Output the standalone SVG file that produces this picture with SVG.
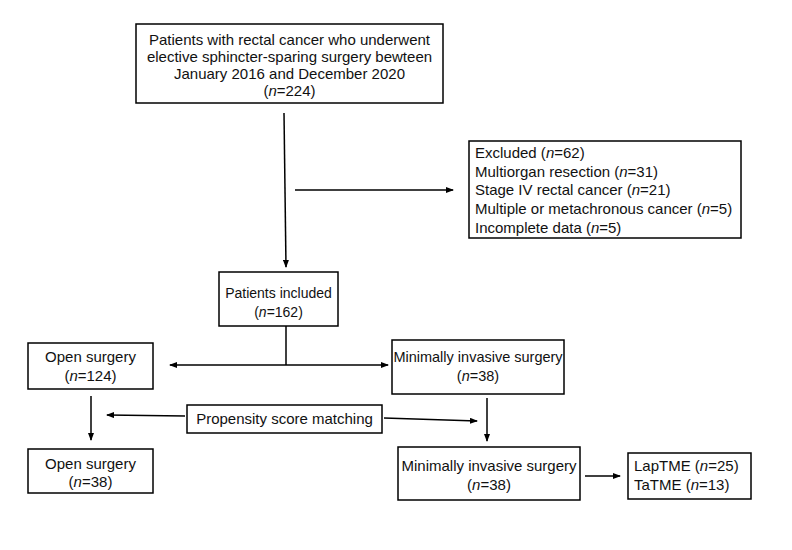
<svg xmlns="http://www.w3.org/2000/svg" width="792" height="550" viewBox="0 0 792 550">
<style>
.box{fill:#fff;stroke:#000;stroke-width:1.5}
text{font-family:"Liberation Sans",Arial,sans-serif;font-size:15px;fill:#111}
.c{text-anchor:middle}
.s14{font-size:14px}
.s145{font-size:14.5px}
.ln{stroke:#000;stroke-width:1.5;fill:none}
</style>
<defs>
<marker id="ah" markerWidth="8" markerHeight="6" refX="7" refY="3" orient="auto" markerUnits="userSpaceOnUse">
<path d="M0,0 L8,3 L0,6 Z" fill="#000"/>
</marker>
<marker id="ahs" markerWidth="8" markerHeight="6" refX="1" refY="3" orient="auto" markerUnits="userSpaceOnUse">
<path d="M8,0 L0,3 L8,6 Z" fill="#000"/>
</marker>
</defs>
<rect width="792" height="550" fill="#fff"/>
<g id="connectors">
<line class="ln" x1="284" y1="113" x2="286" y2="267" marker-end="url(#ah)"/>
<line class="ln" x1="295" y1="190" x2="453" y2="190" marker-end="url(#ah)"/>
<line class="ln" x1="286" y1="326" x2="286" y2="365"/>
<line class="ln" x1="170" y1="365" x2="388" y2="365" marker-start="url(#ahs)" marker-end="url(#ah)"/>
<line class="ln" x1="91" y1="396" x2="91" y2="440" marker-end="url(#ah)"/>
<line class="ln" x1="185" y1="416" x2="107" y2="415" marker-end="url(#ah)"/>
<line class="ln" x1="384" y1="418" x2="477" y2="421" marker-end="url(#ah)"/>
<line class="ln" x1="487" y1="398" x2="487" y2="441" marker-end="url(#ah)"/>
<line class="ln" x1="585" y1="476" x2="620" y2="476" marker-end="url(#ah)"/>
</g>
<g id="n-start">
<rect class="box" x="136" y="24" width="307" height="79"/>
<text class="c" x="289.5" y="45">Patients with rectal cancer who underwent</text>
<text class="c" x="289.5" y="62">elective sphincter-sparing surgery bewteen</text>
<text class="c" x="289.5" y="79">January 2016 and December 2020</text>
<text class="c" x="289.5" y="96">(<tspan font-style="italic">n</tspan>=224)</text>
</g>
<g id="n-excluded">
<rect class="box" x="469" y="141" width="272" height="97"/>
<text x="475" y="158">Excluded (<tspan font-style="italic">n</tspan>=62)</text>
<text x="475" y="177">Multiorgan resection (<tspan font-style="italic">n</tspan>=31)</text>
<text x="475" y="195">Stage IV rectal cancer (<tspan font-style="italic">n</tspan>=21)</text>
<text x="475" y="214">Multiple or metachronous cancer (<tspan font-style="italic">n</tspan>=5)</text>
<text x="475" y="233">Incomplete data (<tspan font-style="italic">n</tspan>=5)</text>
</g>
<g id="n-included">
<rect class="box" x="219" y="272" width="119" height="54"/>
<text class="c s14" x="278.5" y="298">Patients included</text>
<text class="c s14" x="278.5" y="317">(<tspan font-style="italic">n</tspan>=162)</text>
</g>
<g id="n-open1">
<rect class="box" x="28" y="343" width="125" height="46"/>
<text class="c" x="90.5" y="362">Open surgery</text>
<text class="c" x="90.5" y="381">(<tspan font-style="italic">n</tspan>=124)</text>
</g>
<g id="n-mis1">
<rect class="box" x="392" y="340" width="172" height="54"/>
<text class="c s145" x="478" y="362">Minimally invasive surgery</text>
<text class="c s145" x="478" y="381">(<tspan font-style="italic">n</tspan>=38)</text>
</g>
<g id="n-psm">
<rect class="box" x="187" y="405" width="195" height="28"/>
<text class="c" x="284.5" y="424">Propensity score matching</text>
</g>
<g id="n-open2">
<rect class="box" x="28" y="449" width="125" height="44"/>
<text class="c" x="90.5" y="469">Open surgery</text>
<text class="c" x="90.5" y="487">(<tspan font-style="italic">n</tspan>=38)</text>
</g>
<g id="n-mis2">
<rect class="box" x="398" y="447" width="182" height="53"/>
<text class="c" x="489" y="471">Minimally invasive surgery</text>
<text class="c" x="489" y="490">(<tspan font-style="italic">n</tspan>=38)</text>
</g>
<g id="n-tme">
<rect class="box" x="628" y="453" width="123" height="46"/>
<text x="634" y="471">LapTME (<tspan font-style="italic">n</tspan>=25)</text>
<text x="634" y="490">TaTME (<tspan font-style="italic">n</tspan>=13)</text>
</g>
</svg>
